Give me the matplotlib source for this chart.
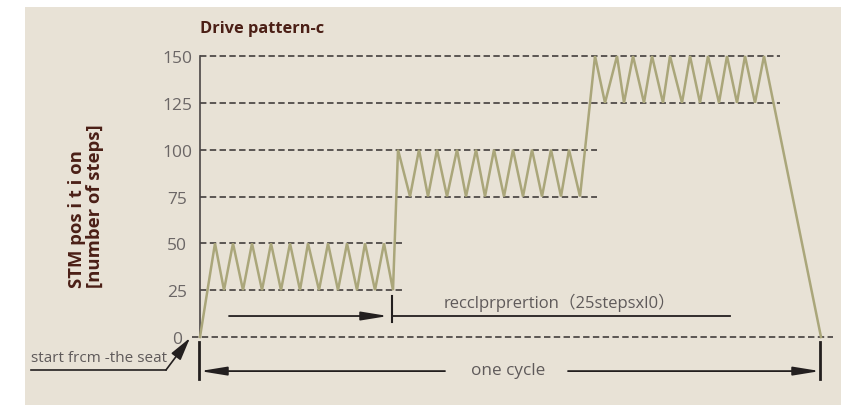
import matplotlib
matplotlib.use("Agg")
import matplotlib.pyplot as plt
from matplotlib.patches import Rectangle

# Drive pattern-c: stepper motor position over one drive cycle
time_units = [0,
              15, 24, 33, 43, 52, 62, 71, 81, 90, 100,
              108, 119, 128, 138, 147, 157, 165, 175, 184, 193,
              198, 210, 219, 228, 237, 247, 257, 266, 276, 285,
              294, 304, 313, 323, 332, 342, 351, 361, 369, 380,
              395, 405, 417, 424, 433, 444, 452, 463, 470, 482,
              490, 500, 508, 519, 527, 537, 545, 555, 564,
              621]
position_steps = [0,
                  50, 25, 50, 25, 50, 25, 50, 25, 50, 25,
                  50, 25, 50, 25, 50, 25, 50, 25, 50, 25,
                  100, 75, 100, 75, 100, 75, 100, 75, 100, 75,
                  100, 75, 100, 75, 100, 75, 100, 75, 100, 75,
                  150, 125, 150, 125, 150, 125, 150, 125, 150, 125,
                  150, 125, 150, 125, 150, 125, 150, 125, 150,
                  0]

ytick_values = [0, 25, 50, 75, 100, 125, 150]
ytick_labels = ["0", "25", "50", "75", "100", "125", "150"]

# reference levels and how far each dashed guide runs
guide_levels = [0, 25, 50, 75, 100, 125, 150]
guide_starts = [-8, 0, 0, 0, 0, 0, 0]
guide_ends = [633, 205, 205, 397, 397, 580, 580]

cycle_end = 620
reciprocation_end = 192

title_text = "Drive pattern-c"
ylabel_text = "STM pos i t i on\n[number of steps]"
recip_text = "recclprprertion\uff0825stepsxl0\uff09"
cycle_text = "one cycle"
start_text = "start frcm -the seat"

BG = "#e8e2d6"
LINE = "#aaa67a"
DARK = "#231f1f"
GUIDE = "#353030"
GREY = "#5f5a5a"
BROWN = "#4b1f16"

FONT = ["Open Sans", "Noto Sans CJK SC", "DejaVu Sans"]
plt.rcParams["font.family"] = FONT

fig = plt.figure(figsize=(8.54, 4.06), dpi=100)
fig.patch.set_facecolor("white")
fig.add_artist(Rectangle((25 / 854, 0), 816 / 854, 398 / 406,
                         transform=fig.transFigure, facecolor=BG,
                         edgecolor="none", zorder=-10))

ax = fig.add_axes([0, 0, 1, 1])
ax.set_facecolor("none")
ax.set_xlim(-200, 654)
ax.set_ylim(-36.30, 180.43)

for side in ("top", "right", "bottom"):
    ax.spines[side].set_visible(False)
ax.spines["left"].set_position(("data", 0))
ax.spines["left"].set_bounds(0, 150)
ax.spines["left"].set_color("#4a4545")
ax.spines["left"].set_linewidth(1.2)
ax.set_xticks([])
ax.set_yticks(ytick_values)
ax.set_yticklabels(ytick_labels)
ax.tick_params(axis="y", length=0, pad=16.5, labelsize=12.5, labelcolor="#6b6666")
for lab in ax.get_yticklabels():
    lab.set_horizontalalignment("center")

# dashed guides
for lvl, x0, x1 in zip(guide_levels, guide_starts, guide_ends):
    ax.plot([x0, x1], [lvl, lvl], color=GUIDE, lw=1.1,
            linestyle=(0, (4.2, 2.2)), zorder=2)

# position trace
ax.plot(time_units, position_steps, color=LINE, lw=1.8, zorder=3,
        solid_joinstyle="miter")

# title and axis label
ax.text(0, 165, title_text, fontsize=11.8, fontweight="bold", color=BROWN,
        ha="left", va="center")
ax.text(-114, (338 - 288) / 1.8733, ylabel_text, fontsize=13.3, fontweight="bold",
        color=BROWN, rotation=90, ha="center", va="bottom",
        multialignment="left", linespacing=1.0)

# reciprocation span
arrow_kw = dict(arrowstyle="-|>,head_length=1.6,head_width=0.26",
                color=DARK, lw=1.3, mutation_scale=10,
                shrinkA=0, shrinkB=0)
ax.annotate("", xy=(188, 11.2), xytext=(29, 11.2), arrowprops=arrow_kw)
ax.plot([reciprocation_end, reciprocation_end], [8.0, 21.9], color=DARK, lw=1.5)
ax.plot([reciprocation_end, 530], [11.2, 11.2], color=DARK, lw=1.3)
ax.text(360, 18.6, recip_text, fontsize=12, color=GREY, ha="center",
        va="center")

# one cycle span
ax.plot([-1, -1], [-2.7, -22.4], color=DARK, lw=2.0)
ax.plot([cycle_end, cycle_end], [-2.7, -22.4], color=DARK, lw=2.0)
ax.annotate("", xy=(0, -18.2), xytext=(245, -18.2), arrowprops=arrow_kw)
ax.annotate("", xy=(cycle_end, -18.2), xytext=(368, -18.2), arrowprops=arrow_kw)
ax.text(308, -17.6, cycle_text, fontsize=12.3, color=GREY, ha="center",
        va="center")

# start marker
ax.plot([-169, -34], [-17.6, -17.6], color=DARK, lw=1.2)
ax.annotate("", xy=(-10, -0.5), xytext=(-34, -17.6),
            arrowprops=dict(arrowstyle="-|>,head_length=1.4,head_width=0.35",
                            color=DARK, lw=1.2, mutation_scale=10,
                            shrinkA=0, shrinkB=0))
ax.text(-101, -10.7, start_text, fontsize=11, color=GREY, ha="center",
        va="center")

fig.savefig("out.png", dpi=100, facecolor="white")
